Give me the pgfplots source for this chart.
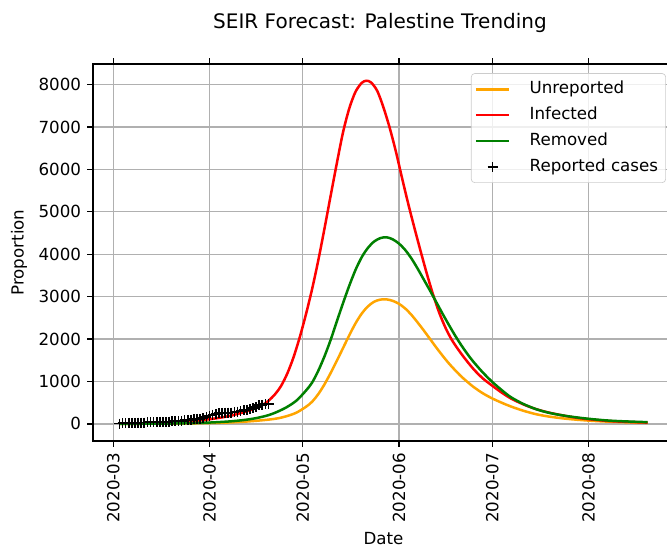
\documentclass[border=0pt]{standalone}
\usepackage{fontspec}
\setmainfont{DejaVu Sans}
\usepackage{pgfplots}
\pgfplotsset{compat=1.18}
\definecolor{mplorange}{HTML}{FFA500}
\definecolor{mplred}{HTML}{FF0000}
\definecolor{mplgreen}{HTML}{008000}
\definecolor{gridgray}{HTML}{B0B0B0}
\definecolor{legedge}{HTML}{CCCCCC}

\begin{document}
\begin{tikzpicture}
\begin{axis}[
  at={(55.77pt,63.57pt)}, anchor=south west,
  width=348.4pt, height=226.05pt, scale only axis,
  xmin=-6.5, xmax=180.5, ymin=-404, ymax=8484,
  axis line style={line width=0.8pt},
  tick align=outside, major tick length=3.5pt,
  tick style={black, line width=0.8pt},
  xtick={0,31,61,92,122,153},
  xticklabels={2020-03,2020-04,2020-05,2020-06,2020-07,2020-08},
  ytick={0,1000,...,8000},
  /pgf/number format/1000 sep={},
  /pgf/number format/assume math mode=true,
  every tick label/.append style={inner sep=0pt, font=\fontsize{10}{12}\selectfont},
  xticklabel style={rotate=90, anchor=east},
  yticklabel style={anchor=east},
  xticklabel shift=3.5pt, yticklabel shift=3.5pt,
  grid=major,
  major grid style={gridgray, line width=0.8pt},
  xlabel={Date}, ylabel={Proportion},
  label style={font=\fontsize{10}{12}\selectfont},
  xlabel style={at={(axis description cs:0.5,-0.2601)}, anchor=center},
  ylabel style={at={(axis description cs:-0.1274,0.5)}, anchor=center},
  legend style={at={(axis description cs:1,1)}, anchor=north east,
    xshift=-4.8pt, yshift=-5.5pt, draw=legedge, rounded corners=2pt,
    fill=white, fill opacity=0.8, text opacity=1,
    font=\fontsize{10}{12}\selectfont,
    inner xsep=2pt, inner ysep=2pt, row sep=0.6pt, column sep=9pt,
    nodes={inner sep=2.5pt, text height=7.5pt, text depth=2.4pt}},
  legend cell align=left,
  legend image code/.code={\draw[mark repeat=2, mark phase=2, #1] plot coordinates {(0pt,0pt) (10pt,0pt) (20pt,0pt)};},
]
% unreported
\addplot[mplorange, line width=1.5pt, smooth, tension=0.5] table {
2 1
10 3
20 8
30 18
37 32
42 50
46 72
50 100
53 130
56 185
59 265
62 400
64 520
66 700
68 930
70 1200
72 1490
74 1790
76 2090
78 2370
80 2600
82 2770
84 2880
86 2930
88 2935
90 2900
92 2830
94 2720
96 2570
98 2390
100 2200
102 2000
104 1800
106 1610
108 1430
110 1270
112 1120
114 990
116 870
119 720
122 600
125 500
128 410
132 310
136 230
140 175
145 127
150 93
155 68
160 50
166 35
172 25
};
\addlegendentry{Unreported}
% infected
\addplot[mplred, line width=1.5pt, smooth, tension=0.5] table {
2 5
8 12
14 22
20 40
25 62
30 100
34 140
38 195
42 275
45 350
48 440
50 545
52 690
54 890
56 1180
58 1560
60 2030
62 2570
64 3170
66 3850
68 4600
70 5380
72 6150
74 6880
76 7440
78 7830
80 8040
81.5 8090
83 8050
85 7850
87 7460
89 6980
91 6420
93 5790
95 5180
97 4610
99 4060
101 3530
103 3040
105 2610
107 2260
109 1980
111 1760
113 1560
116 1290
119 1070
122 900
125 740
128 600
132 460
136 350
140 270
145 195
150 135
155 95
160 65
166 45
172 30
};
\addlegendentry{Infected}
% removed
\addplot[mplgreen, line width=1.5pt, smooth, tension=0.5] table {
2 1
10 3
20 10
30 28
37 55
42 90
46 135
50 205
53 290
56 400
59 550
62 780
64 970
66 1250
68 1590
70 1980
72 2420
74 2850
76 3260
78 3630
80 3930
82 4150
84 4300
86 4380
88 4400
90 4350
92 4250
94 4100
96 3900
98 3660
100 3400
102 3140
104 2870
106 2600
108 2340
110 2090
112 1860
114 1650
116 1460
119 1210
122 990
125 800
128 630
132 470
136 350
140 265
145 195
150 145
155 105
160 75
166 55
172 40
};
\addlegendentry{Removed}
% reported
\addplot[only marks, mark=+, mark size=3pt, black, line width=1pt] table {
2 7
3 16
4 19
5 22
6 25
7 26
8 29
9 30
10 31
11 35
12 38
13 39
14 41
15 44
16 47
17 48
18 52
19 59
20 60
21 62
22 64
23 84
24 91
25 97
26 109
27 115
28 117
29 134
30 161
31 194
32 217
33 237
34 254
35 261
36 263
37 263
38 267
39 268
40 290
41 308
42 319
43 335
44 342
45 374
46 402
47 437
48 449
49 466
50 474
};
\addlegendentry{Reported cases}
\end{axis}
\node[font=\fontsize{12}{14}\selectfont, anchor=base] at (227.9pt,311.2pt) {SEIR Forecast: Palestine Trending};
\pgfresetboundingbox
\path (0,0) rectangle (400pt,328.04pt);
\end{tikzpicture}
\end{document}
